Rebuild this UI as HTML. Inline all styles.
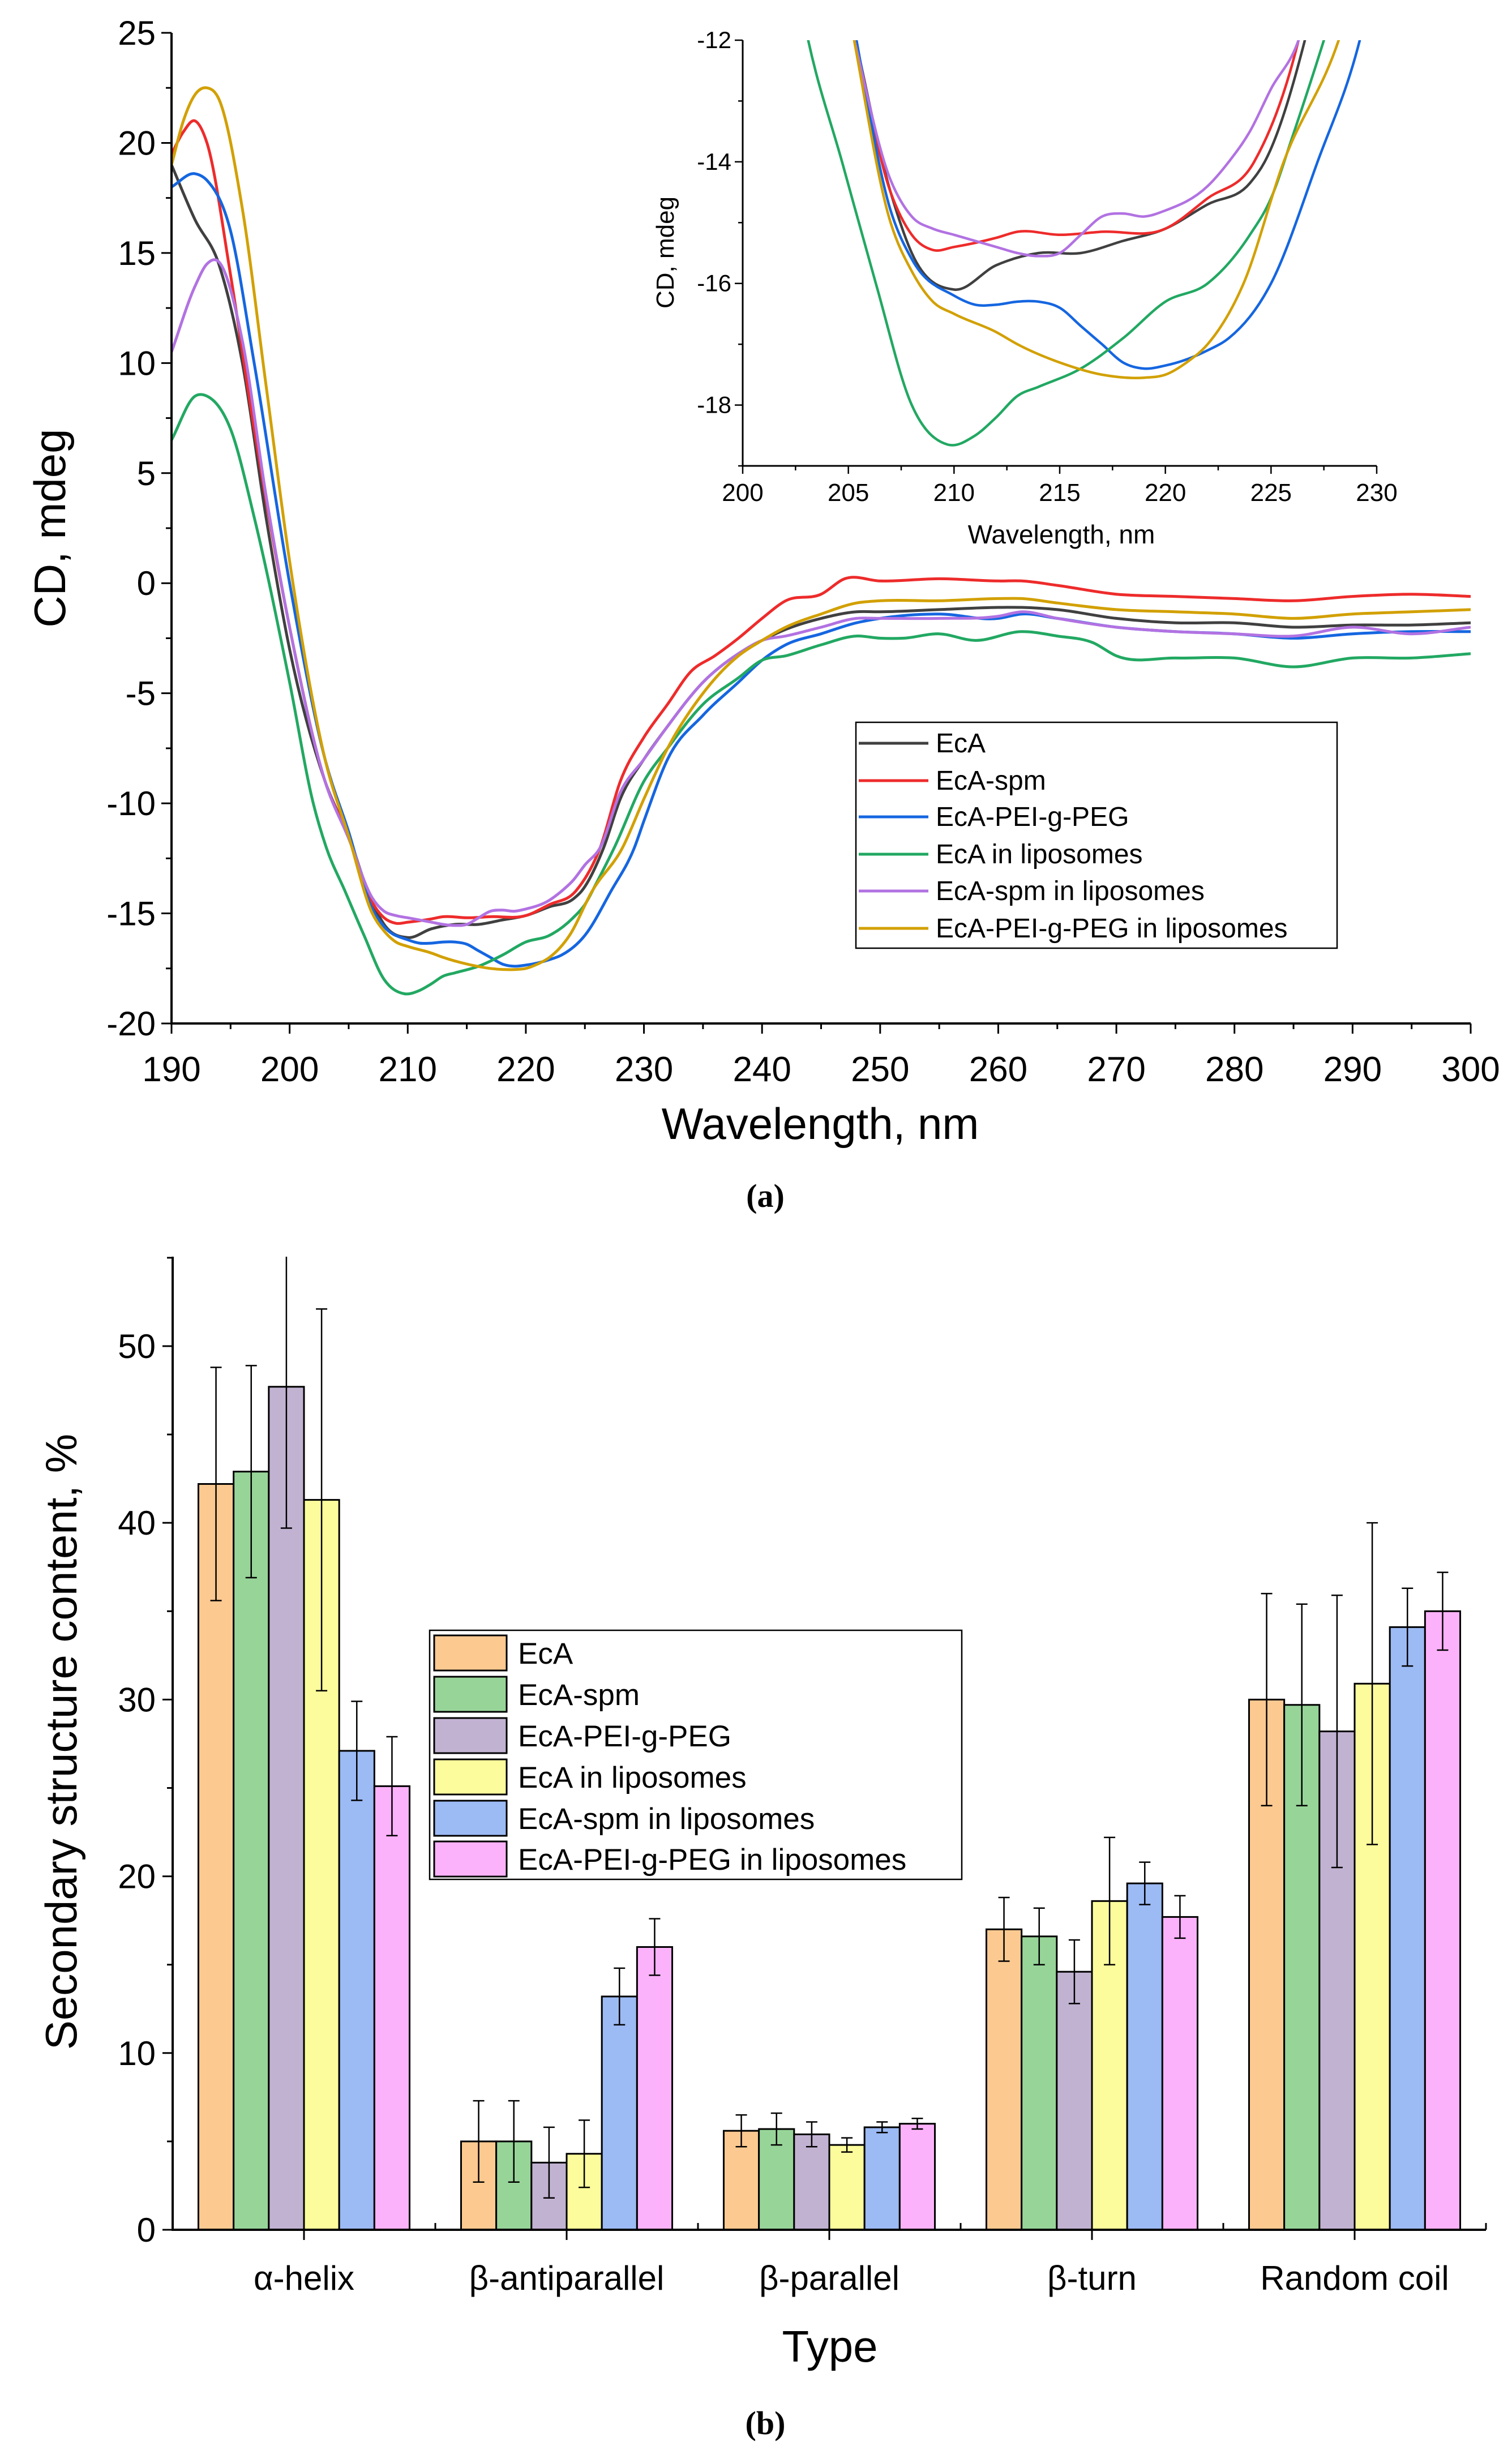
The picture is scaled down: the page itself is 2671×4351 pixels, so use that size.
<!DOCTYPE html>
<html><head><meta charset="utf-8"><style>
html,body{margin:0;padding:0;background:#fff}
svg{display:block;font-family:"Liberation Sans",sans-serif}
</style></head><body>
<svg id="fig" width="2671" height="4351" viewBox="0 0 2671 4351" xmlns="http://www.w3.org/2000/svg">
<rect x="0" y="0" width="2671" height="4351" fill="#fff"/>
<g id="pa"></g>
<g id="pb"></g>
<text x="1352" y="2132" font-family="Liberation Serif,serif" font-weight="bold" font-size="58" text-anchor="middle">(a)</text>
<text x="1352" y="4300" font-family="Liberation Serif,serif" font-weight="bold" font-size="58" text-anchor="middle">(b)</text>
</svg>
<script>
// ---- Panel A data ----
const seriesNames = ["EcA","EcA-spm","EcA-PEI-g-PEG","EcA in liposomes","EcA-spm in liposomes","EcA-PEI-g-PEG  in liposomes"];
const seriesColors = ["#404040","#ee2b2b","#1566e0","#22a862","#b272e2","#d2a000"];
const wlEcA = [190,192,194,196,198,200,203,205,207,208,210,212,214,216,218,220,222,224,224.7,226.6,228,230,232,235,238,240,242,245,248,250,255,260,262,265,270,275,280,285,290,295,300];
const cdEcA = [19,16.5,14.5,10,3,-3,-9,-11.5,-14.5,-15.5,-16.1,-15.7,-15.5,-15.5,-15.3,-15.1,-14.7,-14.35,-14,-12,-9.8,-8,-6.5,-4.5,-3.2,-2.6,-2.1,-1.6,-1.3,-1.3,-1.2,-1.1,-1.1,-1.2,-1.6,-1.8,-1.8,-2.0,-1.9,-1.9,-1.8];
const wlSpm = [190,191,192,193,195,197,200,203,205,207,208,209,210,212,213,215,217,220,222,224.2,226.3,228,230,232,234,236,238,240,242,245,247,250,255,260,262,265,270,275,280,285,290,295,300];
const cdSpm = [19.5,20.5,21,20,14,7,-2,-9,-11.5,-14.5,-15.2,-15.45,-15.4,-15.25,-15.15,-15.2,-15.15,-15.1,-14.6,-14,-12,-9,-7,-5.5,-4,-3.3,-2.5,-1.6,-0.8,-0.5,0.2,0.1,0.2,0.1,0.1,-0.1,-0.5,-0.6,-0.7,-0.8,-0.6,-0.5,-0.6];
const wlPei = [190,192,193,195,197,200,203,205,207,208,210,211,212,213,214,215,216,217,218,219,220,222,223,225,227.2,229.2,230,232,235,238,240,242,245,248,250,255,260,262,265,270,275,280,285,290,295,300];
const cdPei = [18,18.6,18.3,16,10,0,-8,-11.3,-14.8,-15.6,-16.2,-16.35,-16.35,-16.3,-16.3,-16.4,-16.7,-17.0,-17.3,-17.4,-17.35,-17.1,-16.9,-16,-14,-12,-10.8,-8,-6,-4.5,-3.5,-2.8,-2.3,-1.8,-1.6,-1.4,-1.6,-1.4,-1.6,-2.0,-2.2,-2.3,-2.5,-2.3,-2.2,-2.2];
const wlLip = [190,192,193,195,197,200,202,203.1,204.7,206.3,208,209.7,211,212,213,214,216,218,220,222,224,225,226,227.5,230,232,235,238,240,242,245,248,250,252,255,258,262,265,268,270,275,280,285,290,295,300];
const cdLip = [6.5,8.5,8.5,7,3,-4.5,-10,-12,-14,-16,-18,-18.65,-18.5,-18.2,-17.85,-17.7,-17.4,-16.9,-16.3,-16,-15.2,-14.6,-13.6,-12,-9,-7.5,-5.5,-4.3,-3.5,-3.3,-2.8,-2.4,-2.5,-2.5,-2.3,-2.6,-2.2,-2.4,-2.7,-3.3,-3.4,-3.4,-3.8,-3.4,-3.4,-3.2];
const wlSpmLip = [190,192,193,194,196,198,200,203,205,207,208,209,210,212,213,214,215,216,217,218,219,220,222,223,224,225,226.3,228,230,232,235,238,240,242,245,248,250,255,260,262,265,270,275,280,285,290,295,300];
const cdSpmLip = [10.5,13.5,14.5,14.6,11,4,-2,-9,-11.6,-14.3,-14.9,-15.1,-15.2,-15.4,-15.5,-15.55,-15.5,-15.2,-14.9,-14.85,-14.9,-14.8,-14.4,-14.0,-13.5,-12.8,-12,-9.5,-8,-6.5,-4.5,-3.2,-2.6,-2.4,-2,-1.6,-1.6,-1.6,-1.5,-1.3,-1.6,-2.0,-2.2,-2.3,-2.4,-2.0,-2.3,-2.0];
const wlPeiLip = [190,191,192,193,194,196,198,200,203,205,207,208,209,210,212,213,215,217,219,220,221,222,223.7,225.6,228.2,230,232,235,238,240,242,245,248,250,255,260,262,265,270,275,280,285,290,295,300];
const cdPeiLip = [19,21,22.2,22.5,22,17,9,1,-8,-11.5,-15,-15.8,-16.3,-16.5,-16.8,-17,-17.3,-17.5,-17.55,-17.5,-17.3,-17.0,-16,-14,-12,-9.8,-7.5,-5,-3.3,-2.6,-2.0,-1.4,-0.9,-0.8,-0.8,-0.7,-0.7,-0.9,-1.2,-1.3,-1.4,-1.6,-1.4,-1.3,-1.2];
const seriesX = [wlEcA,wlSpm,wlPei,wlLip,wlSpmLip,wlPeiLip];
const seriesY = [cdEcA,cdSpm,cdPei,cdLip,cdSpmLip,cdPeiLip];
const mainXTicks = [190,200,210,220,230,240,250,260,270,280,290,300];
const mainYTicks = [25,20,15,10,5,0,-5,-10,-15,-20];
const insetXTicks = [200,205,210,215,220,225,230];
const insetYTicks = [-12,-14,-16,-18];

// ---- Panel B data ----
const categories = ["α-helix","β-antiparallel","β-parallel","β-turn","Random coil"];
const barColors = ["#fcc990","#97d498","#c2b2d2","#fcfc9c","#9cbaf4","#fcb2fa"];
const valEcA = [42.2,5.0,5.6,17.0,30.0];
const valSpm = [42.9,5.0,5.7,16.6,29.7];
const valPei = [47.7,3.8,5.4,14.6,28.2];
const valLip = [41.3,4.3,4.8,18.6,30.9];
const valSpmLip = [27.1,13.2,5.8,19.6,34.1];
const valPeiLip = [25.1,16.0,6.0,17.7,35.0];
const errEcA = [6.6,2.3,0.9,1.8,6.0];
const errSpm = [6.0,2.3,0.9,1.6,5.7];
const errPei = [8.0,2.0,0.7,1.8,7.7];
const errLip = [10.8,1.9,0.4,3.6,9.1];
const errSpmLip = [2.8,1.6,0.3,1.2,2.2];
const errPeiLip = [2.8,1.6,0.3,1.2,2.2];
const barVals = [valEcA,valSpm,valPei,valLip,valSpmLip,valPeiLip];
const barErrs = [errEcA,errSpm,errPei,errLip,errSpmLip,errPeiLip];
const bYTicks = [0,10,20,30,40,50];

const NS="http://www.w3.org/2000/svg";
function mk(parent,tag,attrs,text){const e=document.createElementNS(NS,tag);for(const k in attrs)e.setAttribute(k,attrs[k]);if(text!==undefined)e.textContent=text;parent.appendChild(e);return e;}
function smooth(p){
  const n=p.length, m=new Array(n);
  for(let i=0;i<n;i++){
    if(i===0){m[i]=(p[1][1]-p[0][1])/(p[1][0]-p[0][0]);}
    else if(i===n-1){m[i]=(p[i][1]-p[i-1][1])/(p[i][0]-p[i-1][0]);}
    else{const h0=p[i][0]-p[i-1][0],h1=p[i+1][0]-p[i][0];
      const s0=(p[i][1]-p[i-1][1])/h0,s1=(p[i+1][1]-p[i][1])/h1;
      m[i]=(s0*h1+s1*h0)/(h0+h1);}
  }
  let d="M"+p[0][0].toFixed(1)+","+p[0][1].toFixed(1);
  for(let i=0;i<n-1;i++){const h=(p[i+1][0]-p[i][0])/3;
    d+=" C"+(p[i][0]+h).toFixed(1)+","+(p[i][1]+m[i]*h).toFixed(1)+" "+(p[i+1][0]-h).toFixed(1)+","+(p[i+1][1]-m[i+1]*h).toFixed(1)+" "+p[i+1][0].toFixed(1)+","+p[i+1][1].toFixed(1);}
  return d;
}

// ===== Panel A =====
const pa=document.getElementById('pa');
const ax={x0:303,x1:2598,y0:58,y1:1808,xmin:190,xmax:300,ymin:-20,ymax:25};
const X=v=>ax.x0+(v-ax.xmin)/(ax.xmax-ax.xmin)*(ax.x1-ax.x0);
const Y=v=>ax.y1-(v-ax.ymin)/(ax.ymax-ax.ymin)*(ax.y1-ax.y0);
let e;
e=mk(pa,'defs',{});
const cp=mk(e,'clipPath',{id:'clipMain'});mk(cp,'rect',{x:ax.x0,y:ax.y0-5,width:ax.x1-ax.x0,height:ax.y1-ax.y0+5});
for(let s=0;s<6;s++){
  const pts=seriesX[s].map((w,i)=>[X(w),Y(seriesY[s][i])]);
  e=mk(pa,'path',{d:smooth(pts),fill:'none',stroke:seriesColors[s],'stroke-width':5,'clip-path':'url(#clipMain)'});
  
  
}
e=mk(pa,'path',{d:`M${ax.x0},${ax.y0}V${ax.y1}H${ax.x1}`,fill:'none',stroke:'#000','stroke-width':4});

for(let v=-20;v<=25;v+=2.5){const major=(v%5===0);mk(pa,'line',{x1:ax.x0,x2:ax.x0-(major?18:10),y1:Y(v),y2:Y(v),stroke:'#000','stroke-width':3});}
for(let v=190;v<=300;v+=5){const major=(v%10===0);mk(pa,'line',{x1:X(v),x2:X(v),y1:ax.y1,y2:ax.y1+(major?18:10),stroke:'#000','stroke-width':3});}
mainYTicks.forEach(v=>{e=mk(pa,'text',{x:ax.x0-28,y:Y(v)+21,'font-size':60,'text-anchor':'end'},String(v));});
mainXTicks.forEach(v=>{e=mk(pa,'text',{x:X(v),y:ax.y1+102,'font-size':62,'text-anchor':'middle'},String(v));});
e=mk(pa,'text',{x:1449,y:2012,'font-size':78,'text-anchor':'middle'},'Wavelength, nm');
e=mk(pa,'text',{x:115,y:933,'font-size':78,'text-anchor':'middle',transform:'rotate(-90 115 933)'},'CD, mdeg');

// inset
const ins={x0:1312,x1:2432,y0:71,y1:823,xmin:200,xmax:230,ymin:-19,ymax:-12};
const IX=v=>ins.x0+(v-ins.xmin)/(ins.xmax-ins.xmin)*(ins.x1-ins.x0);
const IY=v=>ins.y1-(v-ins.ymin)/(ins.ymax-ins.ymin)*(ins.y1-ins.y0);
const g2=mk(pa,'g',{});
const dd=mk(g2,'defs',{});const cp2=mk(dd,'clipPath',{id:'clipIns'});mk(cp2,'rect',{x:ins.x0,y:ins.y0,width:ins.x1-ins.x0,height:ins.y1-ins.y0});
mk(g2,'rect',{x:ins.x0,y:ins.y0-60,width:ins.x1-ins.x0+10,height:ins.y1-ins.y0+60,fill:'#fff'});
for(let s=0;s<6;s++){
  const pts=seriesX[s].map((w,i)=>[IX(w),IY(seriesY[s][i])]);
  e=mk(g2,'path',{d:smooth(pts),fill:'none',stroke:seriesColors[s],'stroke-width':4.5,'clip-path':'url(#clipIns)'});
  
  
}
mk(g2,'path',{d:`M${ins.x0},${ins.y0}V${ins.y1}H${ins.x1}`,fill:'none',stroke:'#000','stroke-width':3});
for(let v=-19;v<=-12;v+=1){mk(g2,'line',{x1:ins.x0,x2:ins.x0-(v%2===0?14:8),y1:IY(v),y2:IY(v),stroke:'#000','stroke-width':2.5});}
for(let v=200;v<=230;v+=2.5){mk(g2,'line',{x1:IX(v),x2:IX(v),y1:ins.y1,y2:ins.y1+(v%5===0?14:8),stroke:'#000','stroke-width':2.5});}
insetYTicks.forEach(v=>{mk(g2,'text',{x:ins.x0-20,y:IY(v)+14,'font-size':42,'text-anchor':'end'},String(v));});
insetXTicks.forEach(v=>{mk(g2,'text',{x:IX(v),y:ins.y1+62,'font-size':44,'text-anchor':'middle'},String(v));});
mk(g2,'text',{x:1875,y:960,'font-size':46,'text-anchor':'middle'},'Wavelength, nm');
mk(g2,'text',{x:1190,y:446,'font-size':44,'text-anchor':'middle',transform:'rotate(-90 1190 446)'},'CD, mdeg');

// legend A
const la=mk(pa,'g',{});
mk(la,'rect',{x:1512,y:1276,width:850,height:399,fill:'#fff',stroke:'#000','stroke-width':2.5});
const laRows=[1313,1379,1443,1509,1574,1640];
for(let s=0;s<6;s++){
  const lg=mk(la,'g',{});
  mk(lg,'line',{x1:1517,x2:1640,y1:laRows[s],y2:laRows[s],stroke:seriesColors[s],'stroke-width':5});
  mk(lg,'text',{x:1653,y:laRows[s]+16,'font-size':48},seriesNames[s]);
}

// ===== Panel B =====
const pb=document.getElementById('pb');
const bx={x0:305,x1:2625,y0:2220,y1:3939,ymin:0,ymax:55.06};
const BY=v=>bx.y1-(v-bx.ymin)/(bx.ymax-bx.ymin)*(bx.y1-bx.y0);
const catW=(bx.x1-bx.x0)/categories.length;
const barW=catW*0.804/6;
const CX=i=>bx.x0+catW*(i+0.5);
for(let c=0;c<categories.length;c++){
  for(let s=0;s<6;s++){
    const v=barVals[s][c],er=barErrs[s][c];
    const xl=CX(c)-barW*3+barW*s;
    e=mk(pb,'rect',{x:xl,y:BY(v),width:barW,height:BY(0)-BY(v),fill:barColors[s],stroke:'#000','stroke-width':3});
    
    
    const xc=xl+barW/2, top=Math.min(bx.ymax,v+er);
    e=mk(pb,'path',{d:`M${xc},${BY(v-er)}V${BY(top)}M${xc-10},${BY(v-er)}H${xc+10}`+(v+er<=bx.ymax?`M${xc-10},${BY(v+er)}H${xc+10}`:''),stroke:'#000','stroke-width':2.5,fill:'none'});
    
    
  }
}
e=mk(pb,'path',{d:`M${bx.x0},${bx.y0}V${bx.y1}H${bx.x1}`,fill:'none',stroke:'#000','stroke-width':4});

for(let v=0;v<=55;v+=5){mk(pb,'line',{x1:bx.x0,x2:bx.x0-(v%10===0?18:10),y1:BY(v),y2:BY(v),stroke:'#000','stroke-width':3});}
for(let c=0;c<=categories.length;c++){const xx=bx.x0+catW*c;mk(pb,'line',{x1:xx,x2:xx,y1:bx.y1,y2:bx.y1-12,stroke:'#000','stroke-width':3});}
categories.forEach((n,c)=>{mk(pb,'line',{x1:CX(c),x2:CX(c),y1:bx.y1,y2:bx.y1+18,stroke:'#000','stroke-width':3});
  e=mk(pb,'text',{x:CX(c),y:4045,'font-size':60,'text-anchor':'middle'},n);});
bYTicks.forEach(v=>{e=mk(pb,'text',{x:bx.x0-30,y:BY(v)+21,'font-size':60,'text-anchor':'end'},String(v));});
e=mk(pb,'text',{x:1466,y:4172,'font-size':78,'text-anchor':'middle'},'Type');
e=mk(pb,'text',{x:135,y:3077,'font-size':78,'text-anchor':'middle',transform:'rotate(-90 135 3077)'},'Secondary structure content, %');

const lb=mk(pb,'g',{});
mk(lb,'rect',{x:759,y:2880,width:940,height:440,fill:'#fff',stroke:'#000','stroke-width':2.5});
const lbRows=[2920,2993,3066,3139,3212,3284];
for(let s=0;s<6;s++){
  const lg=mk(lb,'g',{});
  mk(lg,'rect',{x:767,y:lbRows[s]-31,width:128,height:62,fill:barColors[s],stroke:'#000','stroke-width':3});
  mk(lg,'text',{x:915,y:lbRows[s]+19,'font-size':53},seriesNames[s]);
}
</script>
</body></html>
